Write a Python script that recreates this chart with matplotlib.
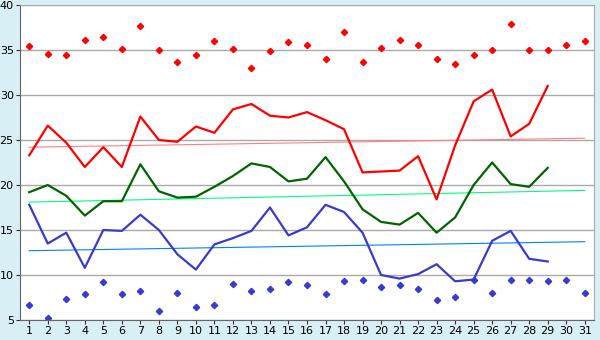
import matplotlib.pyplot as plt
import numpy as np

days = list(range(1, 32))

# upper markers (red) and lower markers (blue)
hi_pts = [35.4, 34.6, 34.4, 36.1, 36.4, 35.1, 37.7, 35.0, 33.7, 34.4,
          36.0, 35.1, 33.0, 34.9, 35.9, 35.6, 34.0, 37.0, 33.7, 35.2,
          36.1, 35.6, 34.0, 33.4, 34.4, 35.0, 37.9, 35.0, 35.0, 35.6, 36.0]
lo_pts = [6.7, 5.2, 7.3, 7.9, 9.2, 7.9, 8.2, 6.0, 8.0, 6.4,
          6.7, 9.0, 8.2, 8.5, 9.2, 8.9, 7.9, 9.3, 9.5, 8.7,
          8.9, 8.4, 7.2, 7.6, 9.4, 8.0, 9.5, 9.5, 9.3, 9.4, 8.0]

# lines, days 1..29
red = [23.3, 26.6, 24.7, 22.0, 24.2, 22.0, 27.6, 25.0, 24.8, 26.5,
       25.8, 28.4, 29.0, 27.7, 27.5, 28.1, 27.2, 26.2, 21.4, 21.5,
       21.6, 23.2, 18.4, 24.4, 29.3, 30.6, 25.4, 26.8, 31.0]
green = [19.2, 20.0, 18.8, 16.6, 18.2, 18.2, 22.3, 19.3, 18.6, 18.7,
         19.8, 21.0, 22.4, 22.0, 20.4, 20.7, 23.1, 20.4, 17.3, 15.9,
         15.6, 16.9, 14.7, 16.4, 20.0, 22.5, 20.1, 19.8, 21.9]
blue = [17.8, 13.5, 14.7, 10.8, 15.0, 14.9, 16.7, 15.0, 12.3, 10.6,
        13.4, 14.1, 14.9, 17.5, 14.4, 15.3, 17.8, 17.0, 14.7, 10.0,
        9.6, 10.1, 11.2, 9.3, 9.5, 13.8, 14.9, 11.8, 11.5]

# trend lines (start, end)
trend_x = [1, 31]
red_trend = [24.2, 25.2]
green_trend = [18.1, 19.4]
blue_trend = [12.7, 13.7]

bg = '#d9eff6'
fig = plt.figure(figsize=(6, 3.4), dpi=100, facecolor=bg)
ax = fig.add_axes([20 / 600, 20 / 340, 574 / 600, 315 / 340])
ax.set_facecolor('white')

n = len(red)
ax.plot(trend_x, red_trend, color='#ff8080', linewidth=0.8)
ax.plot(trend_x, green_trend, color='#00ff80', linewidth=0.8)
ax.plot(trend_x, blue_trend, color='#0080ff', linewidth=0.8)

ax.plot(days[:n], red, color='#ff0000', linewidth=1.6)
ax.plot(days[:n], green, color='#006400', linewidth=1.6)
ax.plot(days[:n], blue, color='#3a3acd', linewidth=1.6)

ax.plot(days, hi_pts, 'D', color='#ff0000', markersize=3.2, linestyle='none')
ax.plot(days, lo_pts, 'D', color='#3a3acd', markersize=3.2, linestyle='none')

ax.set_xlim(0.5, 31.5)
ax.set_ylim(5, 40)
ax.set_xticks(days)
ax.set_yticks(np.arange(5, 41, 5))
ax.yaxis.grid(True, color='#aaaaaa', linewidth=1)
ax.set_axisbelow(True)
for s in ax.spines.values():
    s.set_color('#aaaaaa')
ax.spines['left'].set_color('#666666')
ax.spines['bottom'].set_color('#666666')
ax.tick_params(axis='both', labelsize=8, length=3, color='#333333', pad=1.5)

fig.savefig('out.png', dpi=100, facecolor=bg)
